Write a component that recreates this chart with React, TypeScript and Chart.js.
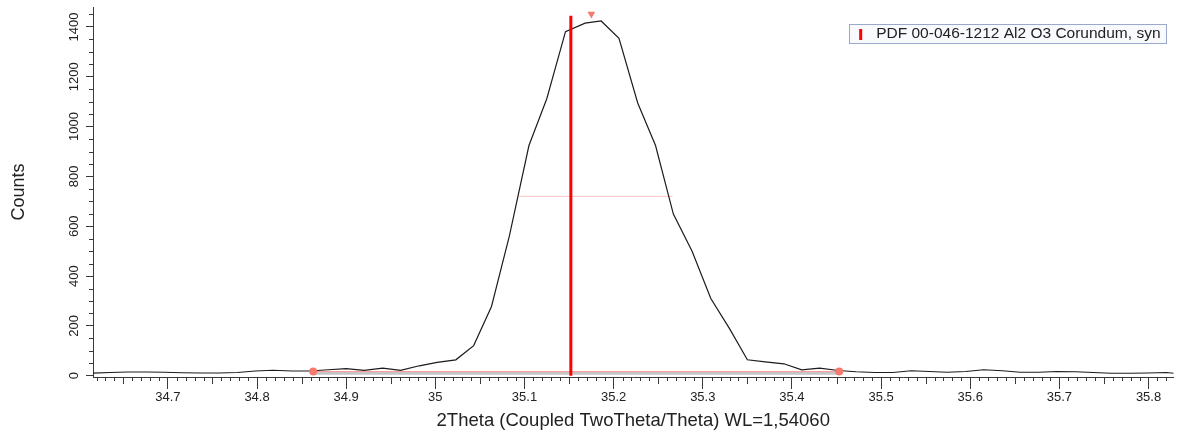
import { useEffect, useRef } from 'react';
import { Chart, registerables } from 'chart.js';

Chart.register(...registerables);

const twoTheta = [
  34.614, 34.635, 34.655, 34.676, 34.696, 34.716, 34.737, 34.757, 34.778, 34.798,
  34.818, 34.839, 34.859, 34.880, 34.900, 34.920, 34.941, 34.961, 34.982, 35.002,
  35.023, 35.043, 35.063, 35.083, 35.105, 35.125, 35.146, 35.168, 35.186, 35.206,
  35.227, 35.247, 35.267, 35.288, 35.309, 35.330, 35.350, 35.370, 35.391, 35.411,
  35.431, 35.452, 35.472, 35.493, 35.513, 35.534, 35.554, 35.574, 35.595, 35.615,
  35.636, 35.656, 35.677, 35.697, 35.718, 35.738, 35.758, 35.779, 35.799, 35.820,
  35.840,
];
const counts = [
  10, 13, 15, 15, 14, 12, 11, 11, 13, 19,
  22, 19, 19, 24, 29, 22, 31, 22, 40, 54,
  64, 121, 278, 560, 924, 1112, 1381, 1415, 1424, 1354,
  1095, 924, 649, 500, 310, 189, 64, 56, 48, 24,
  31, 21, 16, 13, 13, 20, 17, 14, 17, 24,
  20, 14, 14, 17, 16, 13, 10, 10, 11, 13,
  6,
];

// reference pattern stick
const pdfLabel = 'PDF 00-046-1212 Al2 O3 Corundum, syn';
const pdfPosition = 35.152;
const pdfCounts = 1445;

// peak evaluation overlays
const peakPosition = 35.175;
const peakMarker = 1452;
const fwhmEnds = [35.094, 35.266];
const halfMax = 720;
const areaEnds = [34.863, 35.453];
const areaBase = [17, 17];
const backgroundLevel = 10;

const AXIS = '#3a3a3a';
const TEXT = '#222222';

const minorTicks = {
  id: 'minorTicks',
  afterDraw(chart) {
    const { ctx, scales: { x, y } } = chart;
    ctx.save();
    ctx.strokeStyle = AXIS;
    ctx.lineWidth = 1;
    ctx.beginPath();
    for (let i = Math.ceil(x.min * 100); i <= Math.floor(x.max * 100); i++) {
      if (i % 10 === 0) continue;
      const px = Math.round(x.getPixelForValue(i / 100)) + 0.5;
      const len = i % 5 === 0 ? 7 : 4;
      ctx.moveTo(px, x.top);
      ctx.lineTo(px, x.top + len);
    }
    for (let v = 50; v <= y.max; v += 50) {
      if (v % 200 === 0) continue;
      const py = Math.round(y.getPixelForValue(v)) + 0.5;
      ctx.moveTo(y.right, py);
      ctx.lineTo(y.right - 4, py);
    }
    ctx.stroke();
    ctx.restore();
  },
};

const pdfLegend = {
  id: 'pdfLegend',
  afterDraw(chart) {
    const { ctx, chartArea } = chart;
    ctx.save();
    ctx.font = '15.5px "Liberation Sans", Arial, sans-serif';
    const w = ctx.measureText(pdfLabel).width;
    const right = chartArea.right - 7;
    const top = chartArea.top + 17;
    const textX = right - 6 - w;
    const barX = textX - 17;
    const left = barX - 10;
    ctx.fillStyle = '#f9fafd';
    ctx.fillRect(left, top, right - left, 19);
    ctx.strokeStyle = '#9aa9c9';
    ctx.lineWidth = 1;
    ctx.strokeRect(Math.round(left) + 0.5, top + 0.5, Math.round(right - left), 19);
    ctx.fillStyle = '#ff0000';
    ctx.fillRect(barX, top + 5, 3, 11);
    ctx.fillStyle = TEXT;
    ctx.textBaseline = 'middle';
    ctx.fillText(pdfLabel, textX, top + 10);
    ctx.restore();
  },
};

export default function App() {
  const canvasRef = useRef(null);

  useEffect(() => {
    document.body.style.margin = '0';
    Chart.defaults.font.family = '"Liberation Sans", Arial, sans-serif';
    Chart.defaults.color = TEXT;

    const chart = new Chart(canvasRef.current, {
      type: 'line',
      data: {
        datasets: [
          {
            label: pdfLabel,
            data: [{ x: pdfPosition, y: 0 }, { x: pdfPosition, y: pdfCounts }],
            borderColor: '#ff0000',
            borderWidth: 3,
            pointRadius: 0,
          },
          {
            label: 'area limits',
            data: areaEnds.map((x, i) => ({ x, y: areaBase[i] })),
            showLine: false,
            pointRadius: 4,
            pointBackgroundColor: '#f47a70',
            pointBorderWidth: 0,
          },
          {
            label: 'peak',
            data: [{ x: peakPosition, y: peakMarker }],
            showLine: false,
            pointStyle: 'triangle',
            rotation: 180,
            pointRadius: 4.5,
            pointBackgroundColor: '#f47a70',
            pointBorderWidth: 0,
            clip: false,
          },
          {
            label: 'scan',
            data: twoTheta.map((x, i) => ({ x, y: counts[i] })),
            borderColor: '#1c1c1c',
            borderWidth: 1.2,
            pointRadius: 0,
            tension: 0,
          },
          {
            label: 'FWHM',
            data: fwhmEnds.map(x => ({ x, y: halfMax })),
            borderColor: '#ffc4c4',
            borderWidth: 1,
            pointRadius: 0,
          },
          {
            label: 'area base',
            data: areaEnds.map((x, i) => ({ x, y: areaBase[i] })),
            borderColor: '#ff9c9c',
            borderWidth: 1,
            pointRadius: 0,
          },
          {
            label: 'background',
            data: areaEnds.map(x => ({ x, y: backgroundLevel })),
            borderColor: '#c6c6c6',
            borderWidth: 3,
            pointRadius: 0,
          },
        ],
      },
      options: {
        responsive: true,
        maintainAspectRatio: false,
        animation: false,
        layout: { padding: { top: 7, right: 2, left: 0, bottom: 0 } },
        scales: {
          x: {
            type: 'linear',
            min: 34.616,
            max: 35.828,
            afterFit: (s) => { s.height = 61; },
            ticks: {
              stepSize: 0.1,
              includeBounds: false,
              autoSkip: false,
              maxRotation: 0,
              padding: 1,
              color: TEXT,
              font: { size: 13 },
              callback: (v) => String(Number(Number(v).toFixed(1))),
            },
            grid: { drawOnChartArea: false, drawTicks: true, tickLength: 12, tickColor: AXIS },
            border: { color: AXIS, width: 1 },
            title: {
              display: true,
              text: '2Theta (Coupled TwoTheta/Theta) WL=1,54060',
              color: TEXT,
              font: { size: 18.5 },
              padding: { top: 0, bottom: 6 },
            },
          },
          y: {
            min: -5,
            max: 1480,
            afterFit: (s) => { s.width = 93; },
            ticks: {
              stepSize: 200,
              includeBounds: false,
              minRotation: 90,
              maxRotation: 90,
              crossAlign: 'center',
              padding: -3,
              color: TEXT,
              font: { size: 13 },
              callback: (v) => String(v),
            },
            grid: { drawOnChartArea: false, drawTicks: true, tickLength: 7, tickColor: AXIS },
            border: { color: AXIS, width: 1 },
            title: {
              display: true,
              text: 'Counts',
              color: TEXT,
              font: { size: 18 },
              padding: { top: 8, bottom: 0 },
            },
          },
        },
        plugins: {
          legend: { display: false },
          tooltip: { enabled: false },
        },
      },
      plugins: [minorTicks, pdfLegend],
    });

    return () => { chart.destroy(); };
  }, []);

  return (
    <div style={{ width: 1178, height: 438, position: 'relative' }}>
      <canvas ref={canvasRef} />
    </div>
  );
}
